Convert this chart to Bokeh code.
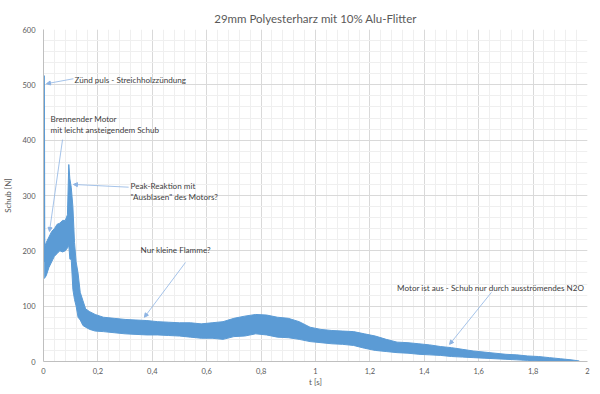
from bokeh.plotting import figure
from bokeh.models import Range1d, FixedTicker, CustomJSTickFormatter, Arrow, NormalHead, ColumnDataSource, Label
from bokeh.embed import file_html
from bokeh.resources import INLINE

# ---- data ----
t = [0.003, 0.010, 0.020, 0.030, 0.040, 0.050, 0.060, 0.070, 0.080, 0.088, 0.093, 0.097,
     0.102, 0.108, 0.114, 0.120, 0.127, 0.135, 0.145, 0.155, 0.170, 0.190, 0.22, 0.26,
     0.30, 0.34, 0.38, 0.42, 0.46, 0.50, 0.54, 0.58, 0.62, 0.66, 0.70, 0.74, 0.78, 0.82,
     0.86, 0.90, 0.94, 0.98, 1.02, 1.06, 1.10, 1.14, 1.18, 1.22, 1.26, 1.30, 1.34, 1.38,
     1.42, 1.46, 1.50, 1.54, 1.58, 1.62, 1.66, 1.70, 1.74, 1.78, 1.82, 1.86, 1.90, 1.94, 1.97]
lower = [150, 155, 170, 180, 190, 195, 200, 198, 200, 205, 210, 185,
         185, 130, 112, 100, 80, 75, 65, 62, 58, 55, 54, 52,
         50, 49, 48, 48, 47, 46, 44, 42, 42, 40, 45, 46, 50, 48,
         44, 43, 40, 36, 34, 32, 31, 29, 24, 20, 18, 16, 15, 13,
         12, 11, 9, 8, 7, 6, 5, 4, 3, 2, 1, 0, 0, 0, 0]
upper = [205, 215, 225, 235, 240, 248, 250, 255, 255, 265, 356, 330,
         315, 280, 215, 180, 160, 125, 110, 95, 90, 85, 80, 78,
         76, 75, 74, 72, 71, 70, 70, 68, 70, 72, 78, 82, 85, 84,
         80, 78, 72, 62, 58, 56, 55, 54, 50, 46, 40, 35, 34, 32,
         30, 27, 25, 22, 19, 17, 15, 13, 12, 10, 9, 7, 5, 3, 1]
spike_t = [0.0, 0.0015, 0.003]
spike_v = [150, 517, 180]

x_ticks = [0, 0.2, 0.4, 0.6, 0.8, 1.0, 1.2, 1.4, 1.6, 1.8, 2.0]
y_ticks = [0, 100, 200, 300, 400, 500, 600]

title_text = "29mm Polyesterharz mit 10% Alu-Flitter"
x_label = "t [s]"
y_label = "Schub [N]"

notes = [
    (["Zünd puls - Streichholzzündung"], 0.114, 508),
    (["Brennender Motor", "mit leicht ansteigendem Schub"], 0.026, 439),
    (["Peak-Reaktion mit", "\"Ausblasen\" des Motors?"], 0.320, 318),
    (["Nur kleine Flamme?"], 0.357, 201),
    (["Motor ist aus - Schub nur durch ausströmendes N2O"], 1.300, 132),
]
arrows = [  # (x_start, y_start, x_end, y_end)
    (0.110, 511, 0.011, 502),
    (0.070, 401, 0.022, 235),
    (0.313, 315, 0.110, 320),
    (0.522, 179, 0.371, 80),
    (1.647, 125, 1.493, 31),
]

BLUE = "#5B9BD5"
GRID = "#d9d9d9"
TXT = "#595959"
FONT = "Lato"

p = figure(frame_width=544, frame_height=332, output_backend="svg", toolbar_location=None,
           x_range=Range1d(0, 2), y_range=Range1d(0, 600),
           min_border_left=34, min_border_right=6, min_border_top=29, min_border_bottom=10)
p.outline_line_color = None

p.title.text = title_text
p.title.align = "center"
p.title.text_font = FONT
p.title.text_font_size = "11.5px"
p.title.text_font_style = "normal"
p.title.text_color = TXT
p.title.standoff = 10

minor_x = [round(i * 0.04, 2) for i in range(51)]
minor_y = [i * 20 for i in range(31)]
p.xaxis.ticker = FixedTicker(ticks=x_ticks, minor_ticks=minor_x)
p.yaxis.ticker = FixedTicker(ticks=y_ticks, minor_ticks=minor_y)
p.xaxis.formatter = CustomJSTickFormatter(code="""
    var s = tick.toFixed(1).replace('.', ',');
    if (s.endsWith(',0')) { s = s.slice(0, -2); }
    return s;
""")

for ax in (p.xaxis[0], p.yaxis[0]):
    ax.major_tick_line_color = None
    ax.minor_tick_line_color = None
    ax.major_tick_out = 0
    ax.minor_tick_out = 0
    ax.major_label_text_font = FONT
    ax.major_label_text_font_size = "7.5px"
    ax.major_label_text_color = TXT
    ax.axis_label_text_font = FONT
    ax.axis_label_text_font_size = "8px"
    ax.axis_label_text_color = TXT
    ax.axis_label_text_font_style = "normal"
    ax.axis_line_color = "#bfbfbf"
p.xaxis.axis_label = x_label
p.yaxis.axis_label = y_label
p.xaxis.major_label_standoff = 6
p.xaxis.axis_label_standoff = 0
p.yaxis.major_label_standoff = 8
p.yaxis.axis_label_standoff = 6

p.xgrid.grid_line_color = GRID
p.ygrid.grid_line_color = GRID
p.xgrid.minor_grid_line_color = "#efefef"
p.ygrid.minor_grid_line_color = "#efefef"

src = ColumnDataSource(dict(t=t, lo=lower, hi=upper))
p.varea(x="t", y1="lo", y2="hi", source=src, fill_color=BLUE)
p.line(x="t", y="lo", source=src, line_color=BLUE, line_width=1)
p.line(x="t", y="hi", source=src, line_color=BLUE, line_width=1)
p.line(spike_t, spike_v, line_color=BLUE, line_width=2)

for (x0, y0, x1, y1) in arrows:
    p.add_layout(Arrow(x_start=x0, y_start=y0, x_end=x1, y_end=y1,
                       line_color="#8eb4e3", line_width=0.8,
                       end=NormalHead(size=4, fill_color="#8eb4e3", line_color="#8eb4e3")))

for lines, x, y in notes:
    for i, s in enumerate(lines):
        p.add_layout(Label(x=x, y=y - i * 21, text=s, text_font=FONT, text_font_size="8.1px",
                           text_color="#404040", text_baseline="middle", text_align="left"))

open("out.html", "w").write(file_html(p, INLINE))
